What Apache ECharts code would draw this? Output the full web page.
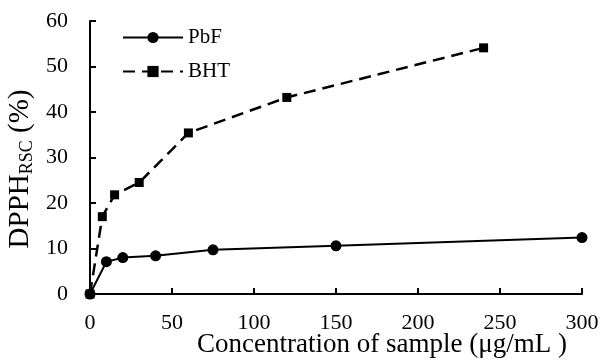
<!DOCTYPE html>
<html>
<head>
<meta charset="utf-8">
<script src="https://cdn.jsdelivr.net/npm/echarts@6/dist/echarts.min.js"></script>
<style>
  html, body { margin: 0; padding: 0; background: #fff; }
  #main { width: 602px; height: 363px; }
</style>
</head>
<body>
<div id="main"></div>
<script>
// concentrations (µg/mL) and DPPH radical scavenging (%)
const pbfConc = [0, 10, 20, 40, 75, 150, 300];
const pbfValues = [0, 7.1, 8.0, 8.4, 9.7, 10.6, 12.4];
const bhtConc = [0, 7.5, 15, 30, 60, 120, 240];
const bhtValues = [0, 17.0, 21.8, 24.5, 35.4, 43.2, 54.1];

const font = "'Liberation Serif', 'Times New Roman', serif";

const chart = echarts.init(document.getElementById("main"));

chart.setOption({
  animation: false,
  backgroundColor: "#fff",
  textStyle: { fontFamily: font, color: "#000" },
  grid: { left: 90, right: 20, top: 21, bottom: 69, containLabel: false, outerBoundsMode: "none" },
  legend: {
    left: 122,
    top: 27,
    padding: 0,
    orient: "vertical",
    itemGap: 13,
    itemWidth: 60,
    itemHeight: 14,
    textStyle: { fontFamily: font, fontSize: 21, color: "#000" },
    data: ["PbF", "BHT"]
  },
  xAxis: {
    type: "value",
    min: 0,
    max: 300,
    interval: 50,
    name: "Concentration of sample (μg/mL )",
    nameLocation: "middle",
    nameGap: 37,
    nameMoveOverlap: false,
    nameTextStyle: { fontFamily: font, fontSize: 27, color: "#000", padding: [0, 0, 0, 92] },
    axisLine: { onZero: false, lineStyle: { color: "#000", width: 2 } },
    axisTick: { inside: true, length: 6, lineStyle: { color: "#000", width: 2 } },
    axisLabel: { fontFamily: font, fontSize: 22, color: "#000", margin: 18 },
    splitLine: { show: false }
  },
  yAxis: {
    type: "value",
    min: 0,
    max: 60,
    interval: 10,
    name: "{m|DPPH}{s|RSC}{m| (%)}",
    nameLocation: "middle",
    nameGap: 54,
    nameMoveOverlap: false,
    nameTextStyle: {
      padding: [0, 23, 0, 0],
      rich: {
        m: { fontFamily: font, fontSize: 29, color: "#000" },
        s: { fontFamily: font, fontSize: 18, color: "#000", verticalAlign: "bottom", padding: [13, 0, 0, 0] }
      }
    },
    axisLine: { lineStyle: { color: "#000", width: 2 } },
    axisTick: { inside: true, length: 6, lineStyle: { color: "#000", width: 2 } },
    axisLabel: { fontFamily: font, fontSize: 22, color: "#000", margin: 22 },
    splitLine: { show: false }
  },
  series: [
    {
      name: "PbF",
      type: "line",
      data: pbfConc.map((x, i) => [x, pbfValues[i]]),
      symbol: "circle",
      symbolSize: 11,
      itemStyle: { color: "#000" },
      lineStyle: { color: "#000", width: 2 }
    },
    {
      name: "BHT",
      type: "line",
      data: bhtConc.map((x, i) => [x, bhtValues[i]]),
      symbol: "rect",
      symbolSize: 9,
      itemStyle: { color: "#000" },
      lineStyle: { color: "#000", width: 2.5, type: [12, 7] }
    }
  ]
});
</script>
</body>
</html>
